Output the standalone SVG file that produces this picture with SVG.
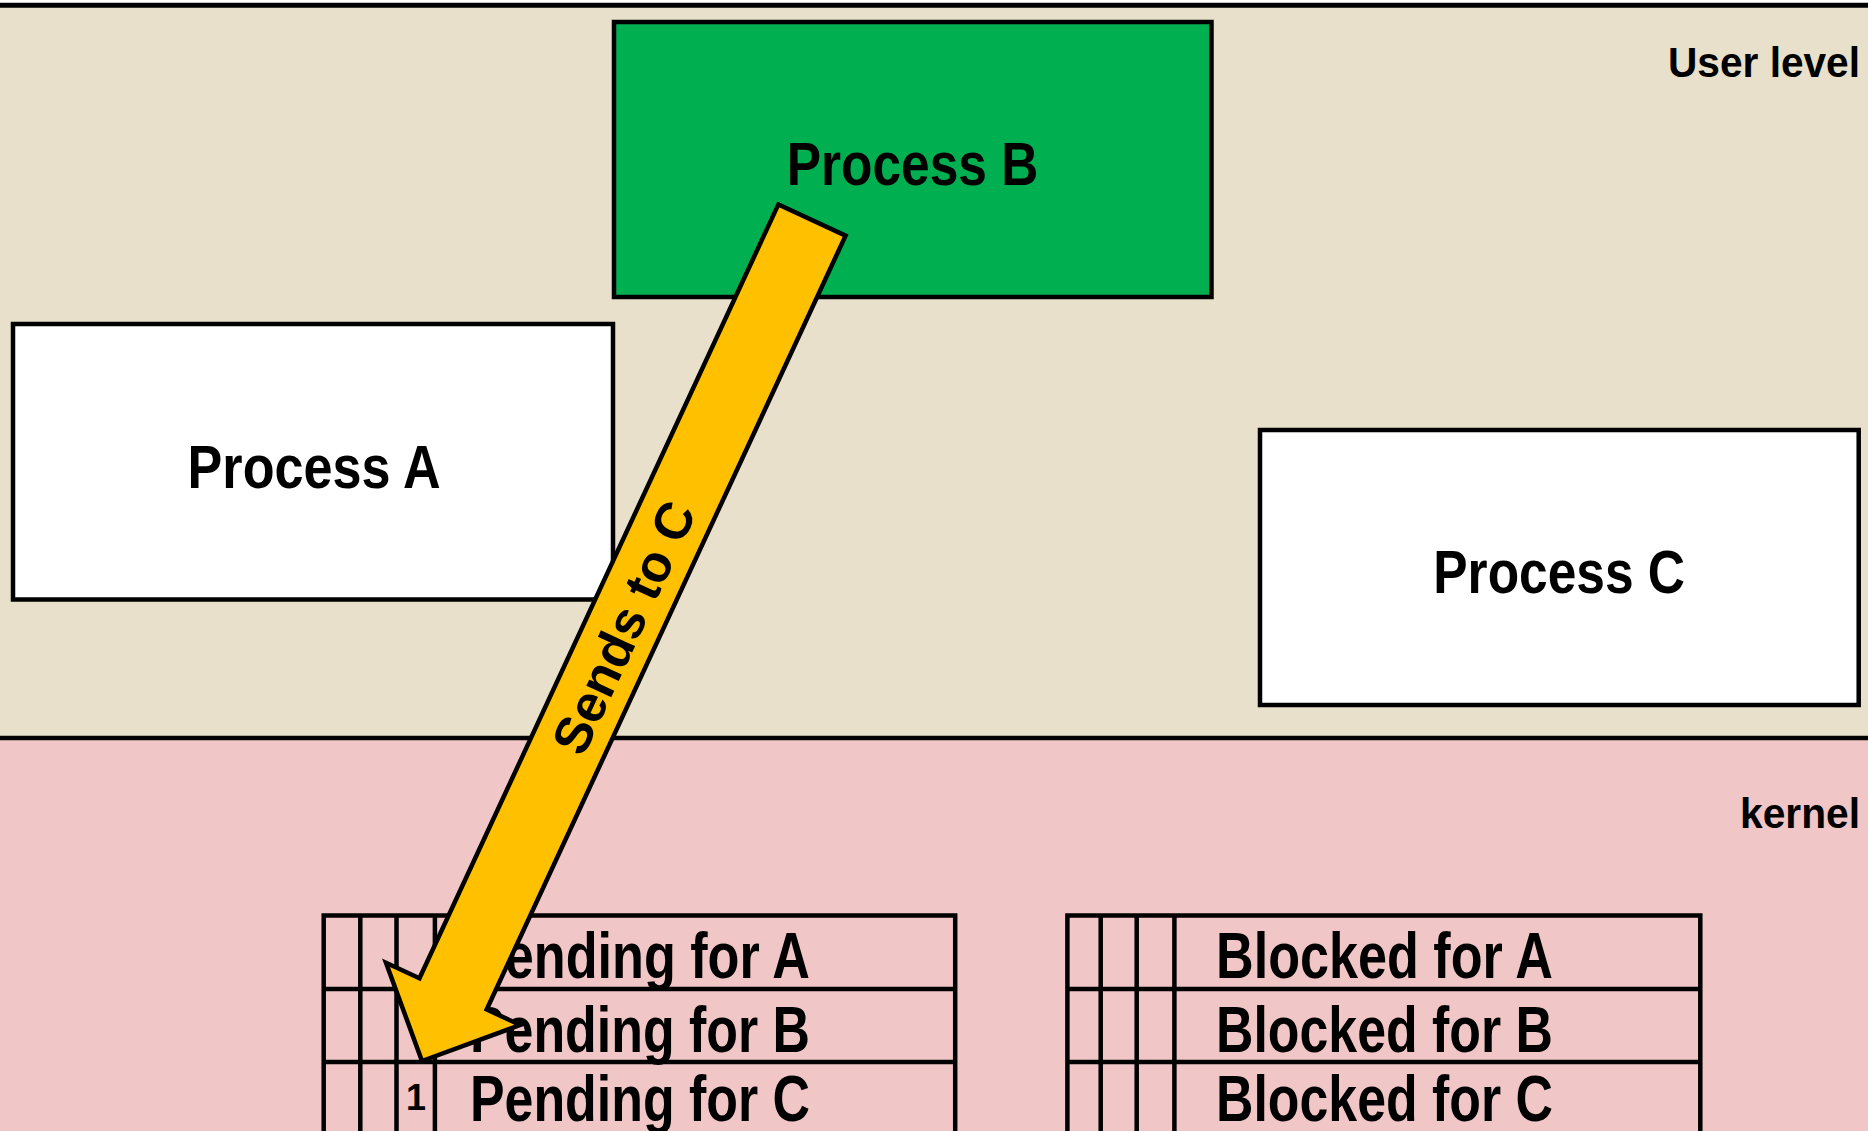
<svg xmlns="http://www.w3.org/2000/svg" width="1868" height="1131" viewBox="0 0 1868 1131">
  <style>
    .box { stroke: #000; stroke-width: 4.5; }
    .grid { stroke: #000; stroke-width: 4.5; fill: none; }
    .lbl { font-family: "Liberation Sans", Arial, sans-serif; font-weight: bold; fill: #000; }
    .big { font-size: 62px; }
    .row { font-size: 64px; }
    .zone { font-size: 42px; }
  </style>
  <rect x="0" y="0" width="1868" height="1131" fill="#ffffff"/>
  <g id="user-level">
    <rect x="0" y="5" width="1868" height="733" fill="#E8E0CA"/>
    <text class="lbl zone" x="1668" y="76.7" textLength="192" lengthAdjust="spacingAndGlyphs">User level</text>
  </g>
  <g id="kernel">
    <rect x="0" y="738" width="1868" height="393" fill="#F1C6C6"/>
    <text class="lbl zone" x="1740" y="828.3" textLength="120" lengthAdjust="spacingAndGlyphs">kernel</text>
  </g>
  <line x1="0" y1="5.3" x2="1868" y2="5.3" stroke="#000" stroke-width="5"/>
  <line x1="0" y1="738" x2="1868" y2="738" stroke="#000" stroke-width="4.5"/>

  <g id="process-a">
    <rect class="box" x="13" y="324" width="600" height="275.5" fill="#ffffff"/>
    <text class="lbl big" x="187.6" y="488" textLength="253" lengthAdjust="spacingAndGlyphs">Process A</text>
  </g>
  <g id="process-b">
    <rect class="box" x="614" y="22" width="597.5" height="275" fill="#00B050"/>
    <text class="lbl big" x="786.7" y="185" textLength="251.6" lengthAdjust="spacingAndGlyphs">Process B</text>
  </g>
  <g id="process-c">
    <rect class="box" x="1260" y="430" width="598.7" height="275" fill="#ffffff"/>
    <text class="lbl big" x="1433.3" y="592.7" textLength="251.7" lengthAdjust="spacingAndGlyphs">Process C</text>
  </g>

  <g id="pending-table">
    <path class="grid" d="M323.7,1140 V915.5 H955.2 V1140 M323.7,989 H955.2 M323.7,1062 H955.2 M360.3,915.5 V1140 M396.5,915.5 V1140 M434.9,915.5 V1140"/>
    <text class="lbl row" x="470" y="977.6" textLength="340" lengthAdjust="spacingAndGlyphs">Pending for A</text>
    <text class="lbl row" x="470" y="1051.6" textLength="340" lengthAdjust="spacingAndGlyphs">Pending for B</text>
    <text class="lbl row" x="470" y="1121" textLength="340" lengthAdjust="spacingAndGlyphs">Pending for C</text>
    <text class="lbl" style="font-size:37px" x="406" y="1110" textLength="20" lengthAdjust="spacingAndGlyphs">1</text>
  </g>
  <g id="blocked-table">
    <path class="grid" d="M1067.4,1140 V915.5 H1700.3 V1140 M1067.4,989 H1700.3 M1067.4,1062 H1700.3 M1100.7,915.5 V1140 M1136.7,915.5 V1140 M1174.4,915.5 V1140"/>
    <text class="lbl row" x="1216" y="977.6" textLength="337" lengthAdjust="spacingAndGlyphs">Blocked for A</text>
    <text class="lbl row" x="1216" y="1051.6" textLength="337" lengthAdjust="spacingAndGlyphs">Blocked for B</text>
    <text class="lbl row" x="1216" y="1121" textLength="337" lengthAdjust="spacingAndGlyphs">Blocked for C</text>
  </g>

  <g id="connectors">
    <g id="sends-to-c">
      <polygon points="422,1061 520.2,1025 486.7,1009.5 845.6,235.6 778.4,204.4 419.5,978.3 386,962.8" fill="#FFC000" stroke="#000" stroke-width="4.5" stroke-linejoin="miter"/>
      <text class="lbl" style="font-size:52px" text-anchor="middle" transform="translate(623,627) rotate(-65.1)" x="0" y="19">Sends to C</text>
    </g>
  </g>
</svg>
